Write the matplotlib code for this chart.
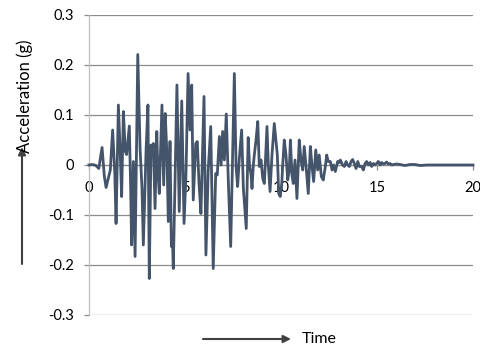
import matplotlib
matplotlib.use("Agg")
import matplotlib.pyplot as plt

# ground acceleration record (turning points)
time_s = [
    0.00, 0.19, 0.36, 0.51, 0.68, 0.80, 0.89, 1.03, 1.11, 1.23,
    1.34, 1.41, 1.53, 1.63, 1.70, 1.79, 1.89, 1.96, 2.10, 2.17,
    2.22, 2.31, 2.40, 2.54, 2.66, 2.76, 2.83, 2.97, 3.07, 3.14,
    3.23, 3.28, 3.35, 3.44, 3.53, 3.59, 3.66, 3.80, 3.89, 3.97,
    4.06, 4.13, 4.22, 4.29, 4.34, 4.39, 4.58, 4.70, 4.83, 4.95,
    5.05, 5.16, 5.26, 5.35, 5.43, 5.56, 5.64, 5.73, 5.83, 5.99,
    6.09, 6.21, 6.34, 6.47, 6.60, 6.68, 6.79, 6.88, 6.96, 7.05,
    7.15, 7.26, 7.38, 7.57, 7.66, 7.74, 7.83, 7.95, 8.04, 8.19,
    8.29, 8.36, 8.44, 8.49, 8.56, 8.61, 8.70, 8.79, 8.87, 8.96,
    9.05, 9.13, 9.18, 9.27, 9.34, 9.43, 9.53, 9.65, 9.74, 9.81,
    9.88, 9.96, 10.04, 10.09, 10.17, 10.26, 10.35, 10.43, 10.49, 10.57,
    10.64, 10.73, 10.83, 10.95, 11.04, 11.13, 11.21, 11.30, 11.42, 11.53,
    11.61, 11.70, 11.81, 11.91, 11.99, 12.10, 12.20, 12.31, 12.38, 12.46,
    12.57, 12.66, 12.74, 12.83, 12.95, 13.04, 13.09, 13.21, 13.30, 13.39,
    13.47, 13.56, 13.65, 13.73, 13.82, 13.91, 14.00, 14.08, 14.20, 14.29,
    14.38, 14.46, 14.55, 14.64, 14.72, 14.81, 14.90, 14.98, 15.07, 15.16,
    15.24, 15.33, 15.42, 15.50, 15.59, 15.68, 15.77, 15.85, 16.03, 16.20,
    16.46, 16.72, 16.98, 17.24, 17.60, 20.00,
]
accel_g = [
    0.000, 0.001, -0.001, -0.007, 0.035, -0.023, -0.045, -0.023, -0.010, 0.070,
    -0.013, -0.117, 0.120, 0.020, -0.063, 0.107, 0.027, 0.021, 0.078, -0.047,
    -0.160, 0.007, -0.183, 0.221, 0.033, -0.047, -0.160, 0.027, 0.120, -0.227,
    0.040, 0.020, 0.043, -0.087, 0.067, -0.013, -0.057, 0.120, -0.040, 0.103,
    0.020, -0.113, 0.047, -0.163, -0.140, -0.207, 0.160, -0.093, 0.128, -0.117,
    -0.020, 0.183, 0.070, 0.160, -0.070, 0.043, 0.047, -0.037, -0.097, 0.137,
    -0.180, -0.010, 0.077, -0.207, -0.017, -0.020, 0.057, 0.000, 0.067, 0.010,
    0.102, -0.037, -0.163, 0.183, -0.003, -0.043, 0.013, 0.070, -0.047, -0.127,
    0.055, 0.000, -0.020, -0.047, 0.000, 0.020, 0.050, 0.087, -0.003, 0.010,
    -0.027, -0.037, 0.000, 0.077, 0.000, -0.053, 0.020, 0.083, 0.047, 0.020,
    -0.057, -0.063, -0.037, 0.000, 0.050, 0.020, -0.030, -0.010, 0.050, -0.020,
    -0.037, 0.010, -0.067, 0.050, 0.010, -0.010, 0.037, 0.000, -0.057, 0.037,
    0.000, -0.033, 0.030, -0.010, 0.020, -0.023, -0.030, -0.003, 0.020, 0.007,
    0.007, -0.010, 0.000, -0.013, 0.007, 0.005, 0.010, 0.000, -0.003, 0.007,
    0.000, -0.003, 0.007, 0.011, 0.003, -0.007, 0.007, -0.003, -0.003, -0.010,
    0.003, 0.007, 0.000, 0.005, -0.003, 0.003, 0.000, 0.003, 0.007, 0.000,
    0.005, 0.002, 0.003, 0.006, 0.002, 0.003, 0.000, 0.001, 0.002, 0.001,
    -0.001, 0.001, 0.001, -0.001, 0.000, 0.000,
]

x_ticks = [0, 5, 10, 15, 20]
y_ticks = [-0.3, -0.2, -0.1, 0, 0.1, 0.2, 0.3]
y_tick_labels = ["-0.3", "-0.2", "-0.1", "0", "0.1", "0.2", "0.3"]

plt.rcParams["font.family"] = ["Lato", "DejaVu Sans"]

W, H = 480, 349
fig = plt.figure(figsize=(W / 100, H / 100), dpi=100)
ax = fig.add_axes([89 / W, 1 - 315 / H, 384 / W, 300 / H])

ax.plot(time_s, accel_g, color="#44546A", lw=2.0, solid_joinstyle="round",
        zorder=3, clip_on=False)

ax.set_xlim(0, 20)
ax.set_ylim(-0.3, 0.3)
ax.set_xticks(x_ticks)
ax.set_xticklabels([str(t) for t in x_ticks])
ax.set_yticks(y_ticks)
ax.set_yticklabels(y_tick_labels)

grid_c = "#8C8C8C"
ax.grid(axis="y", color=grid_c, lw=0.9, zorder=1)
for s in ["top", "right"]:
    ax.spines[s].set_visible(False)
ax.spines["left"].set_color("#BFBFBF")
ax.spines["left"].set_linewidth(0.9)
ax.spines["bottom"].set_position(("data", 0))
ax.spines["bottom"].set_color(grid_c)
ax.spines["bottom"].set_linewidth(0.9)
ax.spines["bottom"].set_zorder(1)

ax.tick_params(axis="y", length=3.6, width=0.9, color=grid_c, pad=7,
               labelsize=10.5, labelcolor="#000000")
ax.tick_params(axis="x", length=3.6, width=0.9, color=grid_c, pad=8,
               labelsize=10.5, labelcolor="#000000")

# axis titles with arrows, as in the original sheet
arrow = dict(arrowstyle="-|>", color="#404040", lw=1.5, mutation_scale=11,
             shrinkA=0, shrinkB=0)
ax.annotate("", xy=(22, H - 147), xytext=(22, H - 264),
            xycoords="figure pixels", textcoords="figure pixels",
            arrowprops=arrow)
fig.text(25 / W, 1 - 96 / H, "Acceleration (g)", rotation=90,
         ha="center", va="center", fontsize=12)

ax.annotate("", xy=(291, H - 339), xytext=(203, H - 339),
            xycoords="figure pixels", textcoords="figure pixels",
            arrowprops=arrow)
fig.text(302 / W, 1 - 339 / H, "Time", ha="left", va="center", fontsize=11.5)

fig.savefig("out.png", dpi=100)
